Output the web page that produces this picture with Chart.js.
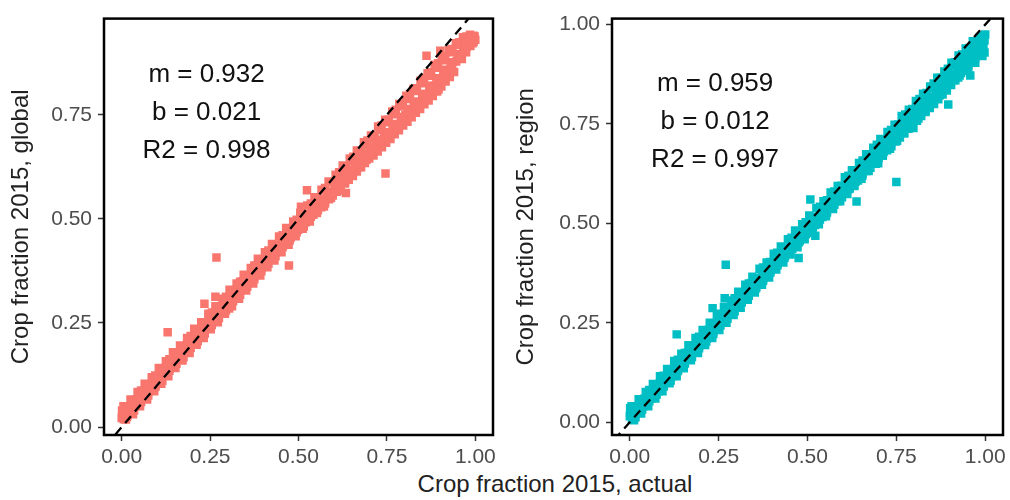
<!DOCTYPE html>
<html>
<head>
<meta charset="utf-8">
<script src="https://cdn.jsdelivr.net/npm/chart.js@4/dist/chart.umd.min.js"></script>
<style>
  html, body { margin: 0; padding: 0; background: #fff; }
  #wrap { position: relative; width: 1010px; height: 500px; background: #fff; overflow: hidden; }
  canvas { position: absolute; top: 0; }
  #xtitle { position: absolute; left: 355px; width: 400px; top: 470px; text-align: center;
            font: 24px "Liberation Sans", Arial, sans-serif; color: #222; line-height: 28px; }
</style>
</head>
<body>
<div id="wrap">
  <canvas id="global" width="505" height="470" style="left:0px"></canvas>
  <canvas id="region" width="505" height="470" style="left:505px"></canvas>
  <div id="xtitle">Crop fraction 2015, actual</div>
</div>
<script>
// values: [actual, modelled]
const globalPoints = [
  [0.000,0.022],[0.003,0.030],[0.006,0.019],[0.001,0.040],[0.010,0.033],[0.013,0.045],[0.016,0.028],[0.020,0.048],
  [0.024,0.036],[0.028,0.055],[0.031,0.043],[0.035,0.060],[0.038,0.050],[0.042,0.067],[0.046,0.057],[0.050,0.072],
  [0.053,0.061],[0.057,0.080],[0.060,0.068],[0.064,0.086],[0.068,0.074],[0.071,0.093],[0.075,0.083],[0.078,0.100],
  [0.082,0.088],[0.085,0.104],[0.089,0.095],[0.092,0.112],[0.096,0.100],[0.100,0.118],[0.104,0.109],[0.108,0.126],
  [0.112,0.118],[0.116,0.132],[0.120,0.125],[0.124,0.141],[0.128,0.133],[0.132,0.150],[0.136,0.141],[0.140,0.158],
  [0.145,0.150],[0.150,0.166],[0.155,0.160],[0.160,0.178],[0.164,0.168],[0.168,0.186],[0.172,0.176],[0.177,0.190],
  [0.181,0.182],[0.185,0.198],[0.190,0.192],[0.194,0.206],[0.198,0.200],[0.203,0.218],[0.207,0.208],[0.212,0.222],
  [0.216,0.214],[0.221,0.232],[0.225,0.224],[0.230,0.240],[0.235,0.232],[0.240,0.250],[0.244,0.240],[0.249,0.258],
  [0.253,0.250],[0.258,0.268],[0.262,0.258],[0.267,0.276],[0.271,0.268],[0.276,0.288],[0.280,0.277],[0.285,0.290],
  [0.290,0.283],[0.294,0.302],[0.299,0.292],[0.303,0.312],[0.308,0.303],[0.313,0.318],[0.318,0.310],[0.323,0.330],
  [0.327,0.318],[0.332,0.338],[0.337,0.330],[0.342,0.350],[0.346,0.338],[0.351,0.353],[0.356,0.345],[0.361,0.362],
  [0.366,0.356],[0.371,0.374],[0.376,0.362],[0.381,0.382],[0.386,0.373],[0.391,0.390],[0.396,0.382],[0.401,0.402],
  [0.406,0.390],[0.411,0.410],[0.416,0.401],[0.421,0.420],[0.426,0.410],[0.432,0.428],[0.437,0.420],[0.442,0.438],
  [0.447,0.428],[0.452,0.446],[0.457,0.437],[0.463,0.455],[0.468,0.447],[0.473,0.464],[0.478,0.455],[0.484,0.474],
  [0.489,0.465],[0.494,0.484],[0.499,0.474],[0.505,0.492],[0.510,0.483],[0.515,0.500],[0.521,0.492],[0.526,0.511],
  [0.531,0.500],[0.537,0.518],[0.542,0.510],[0.548,0.530],[0.553,0.519],[0.558,0.537],[0.564,0.528],[0.569,0.548],
  [0.575,0.537],[0.580,0.556],[0.586,0.547],[0.591,0.566],[0.597,0.556],[0.602,0.575],[0.608,0.565],[0.614,0.586],
  [0.619,0.574],[0.625,0.595],[0.631,0.585],[0.636,0.604],[0.642,0.594],[0.648,0.617],[0.654,0.603],[0.659,0.628],
  [0.665,0.614],[0.671,0.638],[0.677,0.624],[0.683,0.646],[0.688,0.634],[0.694,0.657],[0.700,0.645],[0.706,0.662],
  [0.712,0.652],[0.718,0.676],[0.724,0.662],[0.730,0.688],[0.736,0.672],[0.742,0.697],[0.748,0.683],[0.754,0.706],
  [0.760,0.692],[0.766,0.718],[0.772,0.703],[0.778,0.728],[0.784,0.713],[0.790,0.740],[0.796,0.724],[0.802,0.749],
  [0.808,0.733],[0.814,0.758],[0.820,0.744],[0.826,0.770],[0.832,0.755],[0.838,0.778],[0.844,0.764],[0.850,0.790],
  [0.856,0.775],[0.862,0.800],[0.868,0.784],[0.874,0.812],[0.880,0.795],[0.886,0.820],[0.892,0.806],[0.898,0.832],
  [0.904,0.818],[0.910,0.842],[0.916,0.830],[0.922,0.855],[0.928,0.841],[0.934,0.866],[0.940,0.853],[0.946,0.878],
  [0.952,0.886],[0.958,0.895],[0.962,0.884],[0.966,0.904],[0.970,0.912],[0.974,0.900],[0.978,0.918],[0.982,0.926],
  [0.986,0.915],[0.990,0.932],[0.994,0.924],[0.998,0.938],[1.000,0.930],
  // upper edge of the band
  [0.005,0.050],[0.025,0.066],[0.045,0.084],[0.065,0.104],[0.085,0.120],[0.105,0.142],[0.125,0.158],[0.145,0.180],
  [0.165,0.196],[0.185,0.214],[0.205,0.236],[0.225,0.252],[0.245,0.272],[0.265,0.290],[0.285,0.308],[0.305,0.330],
  [0.325,0.345],[0.345,0.366],[0.365,0.382],[0.385,0.404],[0.405,0.420],[0.425,0.440],[0.445,0.458],[0.465,0.478],
  [0.485,0.494],[0.505,0.515],[0.525,0.532],[0.545,0.552],[0.565,0.570],[0.585,0.590],[0.605,0.606],[0.625,0.628],
  [0.645,0.645],[0.665,0.664],[0.685,0.684],[0.705,0.700],[0.725,0.722],[0.745,0.738],[0.765,0.758],[0.785,0.776],
  [0.805,0.796],[0.825,0.812],[0.845,0.832],[0.865,0.850],[0.885,0.870],[0.905,0.886],[0.925,0.906],[0.945,0.922],
  [0.965,0.936],[0.985,0.942],
  // lower edge of the band
  [0.012,0.018],[0.032,0.031],[0.052,0.050],[0.072,0.066],[0.092,0.086],[0.112,0.104],[0.132,0.122],[0.152,0.142],
  [0.172,0.160],[0.192,0.178],[0.212,0.198],[0.232,0.214],[0.252,0.235],[0.272,0.252],[0.292,0.272],[0.312,0.290],
  [0.332,0.308],[0.352,0.328],[0.372,0.345],[0.392,0.364],[0.412,0.384],[0.432,0.400],[0.452,0.420],[0.472,0.438],
  [0.492,0.458],[0.512,0.476],[0.532,0.494],[0.552,0.514],[0.572,0.530],[0.592,0.550],[0.612,0.568],[0.632,0.588],
  [0.652,0.605],[0.672,0.624],[0.692,0.642],[0.712,0.662],[0.732,0.680],[0.752,0.698],[0.772,0.716],[0.792,0.736],
  [0.812,0.754],[0.832,0.772],[0.852,0.792],[0.872,0.810],[0.892,0.830],[0.912,0.848],[0.932,0.868],[0.952,0.886],
  [0.972,0.905],[0.992,0.922],
  // inside the band
  [0.015,0.047],[0.015,0.024],[0.035,0.064],[0.035,0.040],[0.055,0.088],[0.055,0.060],[0.075,0.099],[0.075,0.076],
  [0.095,0.124],[0.095,0.096],[0.115,0.136],[0.115,0.111],[0.135,0.163],[0.135,0.135],[0.155,0.178],[0.155,0.152],
  [0.175,0.194],[0.175,0.168],[0.195,0.219],[0.195,0.190],[0.215,0.233],[0.215,0.206],[0.235,0.250],[0.235,0.225],
  [0.255,0.275],[0.255,0.245],[0.275,0.287],[0.275,0.262],[0.295,0.313],[0.295,0.280],[0.315,0.327],[0.315,0.302],
  [0.335,0.349],[0.335,0.318],[0.355,0.362],[0.355,0.337],[0.375,0.388],[0.375,0.355],[0.395,0.401],[0.395,0.374],
  [0.415,0.424],[0.415,0.392],[0.435,0.436],[0.435,0.410],[0.455,0.461],[0.455,0.432],[0.475,0.476],[0.475,0.448],
  [0.495,0.498],[0.495,0.468],[0.515,0.511],[0.515,0.485],[0.535,0.537],[0.535,0.505],[0.555,0.552],[0.555,0.522],
  [0.575,0.574],[0.575,0.541],[0.595,0.588],[0.595,0.560],[0.615,0.612],[0.615,0.578],[0.635,0.626],[0.635,0.597],
  [0.655,0.649],[0.655,0.615],[0.675,0.663],[0.675,0.632],[0.695,0.688],[0.695,0.652],[0.715,0.700],[0.715,0.670],
  [0.735,0.724],[0.735,0.690],[0.755,0.738],[0.755,0.708],[0.775,0.762],[0.775,0.726],[0.795,0.776],[0.795,0.745],
  [0.815,0.800],[0.815,0.764],[0.835,0.814],[0.835,0.782],[0.855,0.838],[0.855,0.800],[0.875,0.852],[0.875,0.820],
  [0.895,0.874],[0.895,0.838],[0.915,0.890],[0.915,0.858],[0.935,0.908],[0.935,0.876],[0.955,0.924],[0.955,0.896],
  [0.975,0.938],[0.975,0.912],[0.995,0.940],[0.995,0.926],
  [0.610,0.576],[0.610,0.603],[0.630,0.594],[0.630,0.620],[0.650,0.612],[0.650,0.640],[0.670,0.631],[0.670,0.657],
  [0.690,0.650],[0.690,0.677],[0.710,0.668],[0.710,0.695],[0.730,0.687],[0.730,0.714],[0.750,0.706],[0.750,0.732],
  [0.770,0.724],[0.770,0.751],[0.790,0.743],[0.790,0.770],[0.810,0.762],[0.810,0.788],[0.830,0.780],[0.830,0.807],
  [0.850,0.799],[0.850,0.826],[0.870,0.818],[0.870,0.844],[0.890,0.836],[0.890,0.863],[0.910,0.855],[0.910,0.881],
  [0.930,0.874],[0.930,0.900],[0.950,0.892],[0.950,0.918],
  // stray points
  [0.130,0.228],[0.234,0.296],[0.265,0.313],[0.268,0.407],[0.304,0.285],[0.473,0.388],[0.507,0.529],[0.515,0.482],
  [0.524,0.569],[0.634,0.562],[0.699,0.656],[0.746,0.609],[0.862,0.892],[0.896,0.811],[0.901,0.904],[0.958,0.892]
];

const regionPoints = [
  [0.000,0.015],[0.003,0.028],[0.006,0.008],[0.001,0.035],[0.010,0.022],[0.013,0.034],[0.016,0.014],[0.020,0.040],
  [0.024,0.028],[0.028,0.046],[0.031,0.033],[0.035,0.052],[0.038,0.040],[0.042,0.060],[0.046,0.047],[0.050,0.066],
  [0.053,0.054],[0.057,0.071],[0.060,0.060],[0.064,0.078],[0.068,0.066],[0.071,0.086],[0.075,0.072],[0.078,0.092],
  [0.082,0.078],[0.085,0.098],[0.089,0.085],[0.092,0.104],[0.096,0.093],[0.100,0.112],[0.104,0.100],[0.108,0.120],
  [0.112,0.109],[0.116,0.126],[0.120,0.116],[0.124,0.134],[0.128,0.124],[0.132,0.142],[0.136,0.132],[0.140,0.150],
  [0.145,0.140],[0.150,0.160],[0.155,0.150],[0.160,0.174],[0.164,0.160],[0.168,0.184],[0.172,0.170],[0.177,0.188],
  [0.181,0.176],[0.185,0.194],[0.190,0.186],[0.194,0.200],[0.198,0.194],[0.203,0.212],[0.207,0.202],[0.212,0.226],
  [0.216,0.210],[0.221,0.232],[0.225,0.220],[0.230,0.238],[0.235,0.228],[0.240,0.246],[0.244,0.238],[0.249,0.254],
  [0.253,0.246],[0.258,0.264],[0.262,0.254],[0.267,0.272],[0.271,0.262],[0.276,0.285],[0.280,0.272],[0.285,0.292],
  [0.290,0.282],[0.294,0.300],[0.299,0.290],[0.303,0.312],[0.308,0.300],[0.313,0.318],[0.318,0.308],[0.323,0.326],
  [0.327,0.316],[0.332,0.340],[0.337,0.328],[0.342,0.350],[0.346,0.336],[0.351,0.348],[0.356,0.340],[0.361,0.356],
  [0.366,0.350],[0.371,0.372],[0.376,0.362],[0.381,0.384],[0.386,0.372],[0.391,0.392],[0.396,0.380],[0.401,0.398],
  [0.406,0.390],[0.411,0.408],[0.416,0.398],[0.421,0.418],[0.426,0.408],[0.432,0.426],[0.437,0.418],[0.442,0.434],
  [0.447,0.426],[0.452,0.444],[0.457,0.436],[0.463,0.454],[0.468,0.446],[0.473,0.466],[0.478,0.456],[0.484,0.474],
  [0.489,0.466],[0.494,0.485],[0.499,0.476],[0.505,0.494],[0.510,0.484],[0.515,0.504],[0.521,0.496],[0.526,0.514],
  [0.531,0.506],[0.537,0.528],[0.542,0.516],[0.548,0.538],[0.553,0.526],[0.558,0.548],[0.564,0.538],[0.569,0.558],
  [0.575,0.548],[0.580,0.566],[0.586,0.556],[0.591,0.578],[0.597,0.566],[0.602,0.588],[0.608,0.578],[0.614,0.600],
  [0.619,0.588],[0.625,0.612],[0.631,0.598],[0.636,0.622],[0.642,0.608],[0.648,0.636],[0.654,0.620],[0.659,0.648],
  [0.665,0.632],[0.671,0.656],[0.677,0.640],[0.683,0.664],[0.688,0.652],[0.694,0.678],[0.700,0.664],[0.706,0.690],
  [0.712,0.676],[0.718,0.700],[0.724,0.684],[0.730,0.712],[0.736,0.694],[0.742,0.722],[0.748,0.706],[0.754,0.734],
  [0.760,0.716],[0.766,0.744],[0.772,0.728],[0.778,0.752],[0.784,0.738],[0.790,0.764],[0.796,0.748],[0.802,0.774],
  [0.808,0.758],[0.814,0.786],[0.820,0.770],[0.826,0.796],[0.832,0.780],[0.838,0.806],[0.844,0.790],[0.850,0.818],
  [0.856,0.800],[0.862,0.830],[0.868,0.812],[0.874,0.842],[0.880,0.824],[0.886,0.852],[0.892,0.834],[0.898,0.866],
  [0.904,0.848],[0.910,0.876],[0.916,0.860],[0.922,0.888],[0.928,0.872],[0.934,0.898],[0.940,0.884],[0.946,0.910],
  [0.952,0.896],[0.958,0.920],[0.964,0.932],[0.970,0.942],[0.976,0.928],[0.982,0.952],[0.986,0.962],[0.990,0.948],
  [0.994,0.970],[0.998,0.960],[1.000,0.975],
  [0.952,0.887],[0.972,0.904],[0.992,0.921],[0.985,0.935],[0.998,0.930],
  // upper edge of the band
  [0.005,0.040],[0.025,0.058],[0.045,0.076],[0.065,0.096],[0.085,0.116],[0.105,0.134],[0.125,0.154],[0.145,0.172],
  [0.165,0.194],[0.185,0.212],[0.205,0.232],[0.225,0.250],[0.245,0.268],[0.265,0.290],[0.285,0.306],[0.305,0.328],
  [0.325,0.346],[0.345,0.366],[0.365,0.386],[0.385,0.402],[0.405,0.424],[0.425,0.442],[0.445,0.460],[0.465,0.482],
  [0.485,0.498],[0.505,0.520],[0.525,0.538],[0.545,0.556],[0.565,0.578],[0.585,0.594],[0.605,0.616],[0.625,0.634],
  [0.645,0.652],[0.665,0.674],[0.685,0.690],[0.705,0.712],[0.725,0.730],[0.745,0.748],[0.765,0.770],[0.785,0.786],
  [0.805,0.808],[0.825,0.826],[0.845,0.844],[0.865,0.866],[0.885,0.882],[0.905,0.904],[0.925,0.922],[0.945,0.940],
  [0.965,0.958],[0.985,0.968],
  // lower edge of the band
  [0.012,0.005],[0.032,0.022],[0.052,0.040],[0.072,0.060],[0.092,0.078],[0.112,0.098],[0.132,0.116],[0.152,0.136],
  [0.172,0.156],[0.192,0.174],[0.212,0.194],[0.232,0.212],[0.252,0.232],[0.272,0.250],[0.292,0.270],[0.312,0.288],
  [0.332,0.308],[0.352,0.326],[0.372,0.346],[0.392,0.364],[0.412,0.384],[0.432,0.402],[0.452,0.422],[0.472,0.440],
  [0.492,0.460],[0.512,0.480],[0.532,0.498],[0.552,0.518],[0.572,0.536],[0.592,0.556],[0.612,0.574],[0.632,0.594],
  [0.652,0.612],[0.672,0.632],[0.692,0.650],[0.712,0.670],[0.732,0.688],[0.752,0.708],[0.772,0.726],[0.792,0.746],
  [0.812,0.764],[0.832,0.784],[0.852,0.802],[0.872,0.822],[0.892,0.840],[0.912,0.860],[0.932,0.878],[0.952,0.898],
  [0.972,0.916],[0.992,0.936],
  // inside the band
  [0.015,0.038],[0.015,0.012],[0.035,0.056],[0.035,0.032],[0.055,0.081],[0.055,0.053],[0.075,0.092],[0.075,0.069],
  [0.095,0.117],[0.095,0.089],[0.115,0.130],[0.115,0.105],[0.135,0.157],[0.135,0.129],[0.155,0.174],[0.155,0.148],
  [0.175,0.190],[0.175,0.164],[0.195,0.215],[0.195,0.186],[0.215,0.230],[0.215,0.203],[0.235,0.247],[0.235,0.222],
  [0.255,0.273],[0.255,0.243],[0.275,0.286],[0.275,0.261],[0.295,0.312],[0.295,0.279],[0.315,0.326],[0.315,0.301],
  [0.335,0.349],[0.335,0.318],[0.355,0.362],[0.355,0.337],[0.375,0.389],[0.375,0.356],[0.395,0.403],[0.395,0.376],
  [0.415,0.426],[0.415,0.394],[0.435,0.439],[0.435,0.413],[0.455,0.464],[0.455,0.435],[0.475,0.480],[0.475,0.452],
  [0.495,0.503],[0.495,0.473],[0.515,0.516],[0.515,0.490],[0.535,0.542],[0.535,0.510],[0.555,0.558],[0.555,0.528],
  [0.575,0.580],[0.575,0.547],[0.595,0.595],[0.595,0.567],[0.615,0.620],[0.615,0.586],[0.635,0.634],[0.635,0.605],
  [0.655,0.658],[0.655,0.624],[0.675,0.672],[0.675,0.641],[0.695,0.698],[0.695,0.662],[0.715,0.711],[0.715,0.681],
  [0.735,0.735],[0.735,0.701],[0.755,0.749],[0.755,0.719],[0.775,0.774],[0.775,0.738],[0.795,0.788],[0.795,0.757],
  [0.815,0.813],[0.815,0.777],[0.835,0.828],[0.835,0.796],[0.855,0.852],[0.855,0.814],[0.875,0.866],[0.875,0.834],
  [0.895,0.889],[0.895,0.853],[0.915,0.905],[0.915,0.873],[0.935,0.925],[0.935,0.893],[0.955,0.941],[0.955,0.913],
  [0.975,0.955],[0.975,0.929],[0.995,0.972],[0.995,0.944],
  [0.610,0.583],[0.610,0.610],[0.630,0.602],[0.630,0.628],[0.650,0.621],[0.650,0.648],[0.670,0.640],[0.670,0.667],
  [0.690,0.660],[0.690,0.687],[0.710,0.679],[0.710,0.705],[0.730,0.698],[0.730,0.725],[0.750,0.717],[0.750,0.744],
  [0.770,0.736],[0.770,0.763],[0.790,0.756],[0.790,0.782],[0.810,0.775],[0.810,0.802],[0.830,0.794],[0.830,0.821],
  [0.850,0.813],[0.850,0.840],[0.870,0.832],[0.870,0.859],[0.890,0.852],[0.890,0.878],[0.910,0.871],[0.910,0.897],
  [0.930,0.890],[0.930,0.917],[0.950,0.909],[0.950,0.936],
  // stray points
  [0.132,0.221],[0.233,0.287],[0.267,0.312],[0.270,0.396],[0.475,0.413],[0.508,0.560],[0.522,0.469],[0.638,0.555],
  [0.699,0.651],[0.750,0.604],[0.798,0.740],[0.896,0.799],[0.924,0.867],[0.958,0.872]
];

const xTicks = [0, 0.25, 0.5, 0.75, 1];
const globalYTicks = [0, 0.25, 0.5, 0.75];
const regionYTicks = [0, 0.25, 0.5, 0.75, 1];
const oneToOne = [[-0.1, -0.1], [1.1, 1.1]];
const globalStats = ['m = 0.932', 'b = 0.021', 'R2 = 0.998'];
const regionStats = ['m = 0.959', 'b = 0.012', 'R2 = 0.997'];

const FONT = '"Liberation Sans", Arial, Helvetica, sans-serif';

// black box round the panel + the fit numbers
const panelPlugin = {
  id: 'panel',
  afterDraw(chart, args, opts) {
    const ctx = chart.ctx, a = chart.chartArea;
    ctx.save();
    ctx.strokeStyle = '#000';
    ctx.lineWidth = 2.5;
    ctx.strokeRect(a.left, a.top, a.right - a.left, a.bottom - a.top);
    const cx = chart.scales.x.getPixelForValue(0.24);
    const cy = chart.scales.y.getPixelForValue(0.755);
    ctx.fillStyle = '#111';
    ctx.font = '26px ' + FONT;
    ctx.textAlign = 'center';
    ctx.textBaseline = 'middle';
    opts.lines.forEach((t, i) => ctx.fillText(t, cx, cy + (i - 1) * 38));
    ctx.restore();
  }
};

function makePanel(id, pts, color, yTicks, yMin, yMax, yTitle, yWidth, padRight, stats) {
  const ctx = document.getElementById(id).getContext('2d');
  return new Chart(ctx, {
    type: 'scatter',
    data: {
      datasets: [
        {
          type: 'line',
          data: oneToOne.map(p => ({x: p[0], y: p[1]})),
          borderColor: '#000',
          borderWidth: 2.3,
          borderDash: [9, 6],
          pointRadius: 0,
          fill: false,
          order: 0
        },
        {
          data: pts.map(p => ({x: p[0], y: p[1]})),
          backgroundColor: color,
          pointStyle: 'rect',
          pointRadius: 6,
          pointBorderWidth: 0,
          borderWidth: 0,
          order: 1
        }
      ]
    },
    options: {
      responsive: false,
      animation: false,
      layout: { padding: { top: 10, right: padRight, left: 0, bottom: 0 } },
      plugins: { legend: { display: false }, tooltip: { enabled: false }, panel: { lines: stats } },
      scales: {
        x: {
          type: 'linear', min: -0.05, max: 1.05,
          afterBuildTicks: s => { s.ticks = xTicks.map(v => ({value: v})); },
          afterFit: s => { s.height = 35; },
          grid: { drawOnChartArea: false, drawTicks: true, tickLength: 6, tickWidth: 1.5, tickColor: '#333' },
          border: { display: false },
          ticks: { autoSkip: false, maxRotation: 0, padding: 4, color: '#4d4d4d',
                   font: { size: 21, family: FONT }, callback: v => v.toFixed(2) }
        },
        y: {
          type: 'linear', min: yMin, max: yMax,
          afterBuildTicks: s => { s.ticks = yTicks.map(v => ({value: v})); },
          afterFit: s => { s.width = yWidth; },
          grid: { drawOnChartArea: false, drawTicks: true, tickLength: 6, tickWidth: 1.5, tickColor: '#333' },
          border: { display: false },
          ticks: { autoSkip: false, padding: 6, color: '#4d4d4d',
                   font: { size: 21, family: FONT }, callback: v => v.toFixed(2) },
          title: { display: true, text: yTitle, color: '#222', font: { size: 24, family: FONT },
                   padding: { top: 7, bottom: 0 } }
        }
      }
    },
    plugins: [panelPlugin]
  });
}

makePanel('global', globalPoints, '#F8766D', globalYTicks, -0.019, 0.981,
          'Crop fraction 2015, global', 104, 12, globalStats);
makePanel('region', regionPoints, '#00BFC4', regionYTicks, -0.032, 1.015,
          'Crop fraction 2015, region', 107, 7, regionStats);
</script>
</body>
</html>
